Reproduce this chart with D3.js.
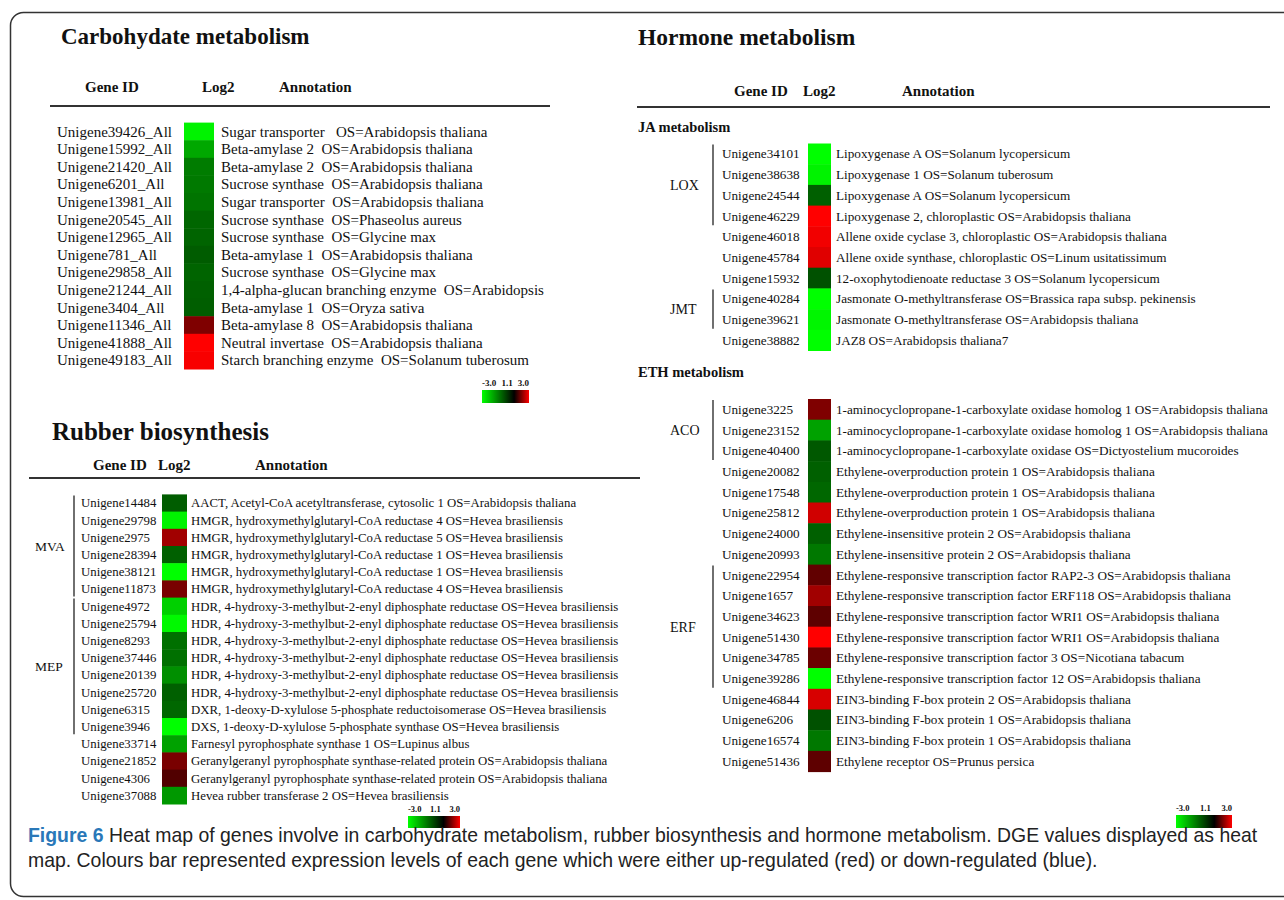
<!DOCTYPE html>
<html>
<head>
<meta charset="utf-8">
<script src="https://cdn.jsdelivr.net/npm/d3@7"></script>
<style>
  body { margin: 0; background: #fff; }
  svg { display: block; }
  text { font-family: "Liberation Serif", "Times New Roman", serif; fill: #111; }
  .cap { font-family: "Liberation Sans Narrow", "Liberation Sans", "Open Sans", sans-serif; fill: #222; }
</style>
</head>
<body>
<svg id="chart" width="1284" height="900"></svg>
<script>
// ---------- Carbohydrate metabolism ----------
const carbGenes = [
  "Unigene39426_All", "Unigene15992_All", "Unigene21420_All", "Unigene6201_All",
  "Unigene13981_All", "Unigene20545_All", "Unigene12965_All", "Unigene781_All",
  "Unigene29858_All", "Unigene21244_All", "Unigene3404_All", "Unigene11346_All",
  "Unigene41888_All", "Unigene49183_All"
];
const carbLog2 = [-2.8, -1.6, -0.9, -0.85, -0.77, -0.54, -0.5, -0.38, -0.5, -0.44, -0.41, 2.05, 3.0, 2.95];
const carbNotes = [
  "Sugar transporter   OS=Arabidopsis thaliana",
  "Beta-amylase 2  OS=Arabidopsis thaliana",
  "Beta-amylase 2  OS=Arabidopsis thaliana",
  "Sucrose synthase  OS=Arabidopsis thaliana",
  "Sugar transporter  OS=Arabidopsis thaliana",
  "Sucrose synthase  OS=Phaseolus aureus",
  "Sucrose synthase  OS=Glycine max",
  "Beta-amylase 1  OS=Arabidopsis thaliana",
  "Sucrose synthase  OS=Glycine max",
  "1,4-alpha-glucan branching enzyme  OS=Arabidopsis",
  "Beta-amylase 1  OS=Oryza sativa",
  "Beta-amylase 8  OS=Arabidopsis thaliana",
  "Neutral invertase  OS=Arabidopsis thaliana",
  "Starch branching enzyme  OS=Solanum tuberosum"
];

// ---------- Rubber biosynthesis ----------
const rubberGenes = [
  "Unigene14484", "Unigene29798", "Unigene2975", "Unigene28394", "Unigene38121", "Unigene11873",
  "Unigene4972", "Unigene25794", "Unigene8293", "Unigene37446", "Unigene20139", "Unigene25720",
  "Unigene6315", "Unigene3946", "Unigene33714", "Unigene21852", "Unigene4306", "Unigene37088"
];
const rubberLog2 = [-0.4, -2.8, 2.3, -0.45, -3.0, 2.0, -2.25, -2.9, -0.7, -0.7, -1.2, -0.45, -0.55, -3.0, -1.5, 2.0, 1.7, -1.35];
const rubberNotes = [
  "AACT, Acetyl-CoA acetyltransferase, cytosolic 1 OS=Arabidopsis thaliana",
  "HMGR, hydroxymethylglutaryl-CoA reductase 4 OS=Hevea brasiliensis",
  "HMGR, hydroxymethylglutaryl-CoA reductase 5 OS=Hevea brasiliensis",
  "HMGR, hydroxymethylglutaryl-CoA reductase 1 OS=Hevea brasiliensis",
  "HMGR, hydroxymethylglutaryl-CoA reductase 1 OS=Hevea brasiliensis",
  "HMGR, hydroxymethylglutaryl-CoA reductase 4 OS=Hevea brasiliensis",
  "HDR, 4-hydroxy-3-methylbut-2-enyl diphosphate reductase OS=Hevea brasiliensis",
  "HDR, 4-hydroxy-3-methylbut-2-enyl diphosphate reductase OS=Hevea brasiliensis",
  "HDR, 4-hydroxy-3-methylbut-2-enyl diphosphate reductase OS=Hevea brasiliensis",
  "HDR, 4-hydroxy-3-methylbut-2-enyl diphosphate reductase OS=Hevea brasiliensis",
  "HDR, 4-hydroxy-3-methylbut-2-enyl diphosphate reductase OS=Hevea brasiliensis",
  "HDR, 4-hydroxy-3-methylbut-2-enyl diphosphate reductase OS=Hevea brasiliensis",
  "DXR, 1-deoxy-D-xylulose 5-phosphate reductoisomerase OS=Hevea brasiliensis",
  "DXS, 1-deoxy-D-xylulose 5-phosphate synthase OS=Hevea brasiliensis",
  "Farnesyl pyrophosphate synthase 1 OS=Lupinus albus",
  "Geranylgeranyl pyrophosphate synthase-related protein OS=Arabidopsis thaliana",
  "Geranylgeranyl pyrophosphate synthase-related protein OS=Arabidopsis thaliana",
  "Hevea rubber transferase 2 OS=Hevea brasiliensis"
];
const rubberGroups = [
  { name: "MVA", from: "Unigene14484", to: "Unigene11873" },
  { name: "MEP", from: "Unigene4972", to: "Unigene3946" }
];

// ---------- Hormone metabolism: JA ----------
const jaGenes = [
  "Unigene34101", "Unigene38638", "Unigene24544", "Unigene46229", "Unigene46018",
  "Unigene45784", "Unigene15932", "Unigene40284", "Unigene39621", "Unigene38882"
];
const jaLog2 = [-3.0, -2.8, -0.45, 3.0, 2.9, 2.77, -0.2, -3.0, -2.85, -3.0];
const jaNotes = [
  "Lipoxygenase A OS=Solanum lycopersicum",
  "Lipoxygenase 1 OS=Solanum tuberosum",
  "Lipoxygenase A OS=Solanum lycopersicum",
  "Lipoxygenase 2, chloroplastic OS=Arabidopsis thaliana",
  "Allene oxide cyclase 3, chloroplastic OS=Arabidopsis thaliana",
  "Allene oxide synthase, chloroplastic OS=Linum usitatissimum",
  "12-oxophytodienoate reductase 3 OS=Solanum lycopersicum",
  "Jasmonate O-methyltransferase OS=Brassica rapa subsp. pekinensis",
  "Jasmonate O-methyltransferase OS=Arabidopsis thaliana",
  "JAZ8 OS=Arabidopsis thaliana7"
];
const jaGroups = [
  { name: "LOX", from: "Unigene34101", to: "Unigene46229" },
  { name: "JMT", from: "Unigene40284", to: "Unigene39621" }
];

// ---------- Hormone metabolism: ETH ----------
const ethGenes = [
  "Unigene3225", "Unigene23152", "Unigene40400", "Unigene20082", "Unigene17548", "Unigene25812",
  "Unigene24000", "Unigene20993", "Unigene22954", "Unigene1657", "Unigene34623", "Unigene51430",
  "Unigene34785", "Unigene39286", "Unigene46844", "Unigene6206", "Unigene16574", "Unigene51436"
];
const ethLog2 = [2.05, -1.5, -0.32, -0.45, -0.55, 2.65, -0.45, -0.83, 1.82, 2.3, 1.8, 3.0, 1.9, -3.0, 2.7, -0.2, -0.83, 1.8];
const ethNotes = [
  "1-aminocyclopropane-1-carboxylate oxidase homolog 1 OS=Arabidopsis thaliana",
  "1-aminocyclopropane-1-carboxylate oxidase homolog 1 OS=Arabidopsis thaliana",
  "1-aminocyclopropane-1-carboxylate oxidase OS=Dictyostelium mucoroides",
  "Ethylene-overproduction protein 1 OS=Arabidopsis thaliana",
  "Ethylene-overproduction protein 1 OS=Arabidopsis thaliana",
  "Ethylene-overproduction protein 1 OS=Arabidopsis thaliana",
  "Ethylene-insensitive protein 2 OS=Arabidopsis thaliana",
  "Ethylene-insensitive protein 2 OS=Arabidopsis thaliana",
  "Ethylene-responsive transcription factor RAP2-3 OS=Arabidopsis thaliana",
  "Ethylene-responsive transcription factor ERF118 OS=Arabidopsis thaliana",
  "Ethylene-responsive transcription factor WRI1 OS=Arabidopsis thaliana",
  "Ethylene-responsive transcription factor WRI1 OS=Arabidopsis thaliana",
  "Ethylene-responsive transcription factor 3 OS=Nicotiana tabacum",
  "Ethylene-responsive transcription factor 12 OS=Arabidopsis thaliana",
  "EIN3-binding F-box protein 2 OS=Arabidopsis thaliana",
  "EIN3-binding F-box protein 1 OS=Arabidopsis thaliana",
  "EIN3-binding F-box protein 1 OS=Arabidopsis thaliana",
  "Ethylene receptor OS=Prunus persica"
];
const ethGroups = [
  { name: "ACO", from: "Unigene3225", to: "Unigene40400" },
  { name: "ERF", from: "Unigene22954", to: "Unigene39286" }
];

// colour key ticks and header labels
const legendTicks = [-3.0, 1.1, 3.0];
const headerLabels = ["Gene ID", "Log2", "Annotation"];
const captionBold = "Figure 6";
const captionLines = [
  " Heat map of genes involve in carbohydrate metabolism, rubber biosynthesis and hormone metabolism. DGE values displayed as heat",
  "map. Colours bar represented expression levels of each gene which were either up-regulated (red) or down-regulated (blue)."
];

// ---------- drawing ----------
const svg = d3.select("#chart");
const color = d3.scaleLinear().domain(legendTicks).range(["#00ff00", "#000000", "#ff0000"]).clamp(true);

// outer frame (open to the right)
svg.append("rect")
  .attr("x", 10.5).attr("y", 12.5).attr("width", 1320).attr("height", 884)
  .attr("rx", 13).attr("fill", "none").attr("stroke", "#333").attr("stroke-width", 1.5);

// gradient for the colour keys
const defs = svg.append("defs");
const grad = defs.append("linearGradient").attr("id", "keyGrad");
const keyPos = d3.scaleLinear().domain(d3.extent(legendTicks)).range([0, 100]);
legendTicks.forEach(t => grad.append("stop").attr("offset", keyPos(t) + "%").attr("stop-color", color(t)));

function title(g, txt, x, y, size) {
  g.append("text").attr("x", x).attr("y", y).attr("font-size", size).attr("font-weight", "bold").text(txt);
}

function header(g, xs, y, lineX0, lineX1, lineY) {
  g.selectAll(null).data(headerLabels).join("text")
    .attr("x", (d, i) => xs[i]).attr("y", y)
    .attr("font-size", 15).attr("font-weight", "bold").text(d => d);
  g.append("line").attr("x1", lineX0).attr("x2", lineX1).attr("y1", lineY).attr("y2", lineY)
    .attr("stroke", "#333").attr("stroke-width", 2);
}

function block(g, o) {
  const y = d3.scaleBand().domain(o.genes).range([o.top, o.bottom]);
  const rows = o.genes.map((gname, i) => ({ gene: gname, v: o.values[i], note: o.notes[i] }));
  g.selectAll(null).data(rows).join("rect")
    .attr("x", o.cellX).attr("width", o.cellW)
    .attr("y", d => y(d.gene)).attr("height", y.bandwidth() + 0.5)
    .attr("fill", d => color(d.v));
  g.selectAll(null).data(rows).join("text")
    .attr("x", o.labelX).attr("y", d => y(d.gene) + y.bandwidth() / 2).attr("dy", "0.35em")
    .attr("font-size", o.fontSize).text(d => d.gene);
  g.selectAll(null).data(rows).join("text")
    .attr("x", o.noteX).attr("y", d => y(d.gene) + y.bandwidth() / 2).attr("dy", "0.35em")
    .attr("font-size", o.fontSize).style("white-space", "pre").text(d => d.note);
  (o.groups || []).forEach(grp => {
    const y0 = y(grp.from) + 1, y1 = y(grp.to) + y.bandwidth() - 1;
    g.append("line").attr("x1", o.bracketX).attr("x2", o.bracketX).attr("y1", y0).attr("y2", y1)
      .attr("stroke", "#222").attr("stroke-width", 1.3);
    g.append("text").attr("x", o.groupX).attr("y", (y0 + y1) / 2).attr("dy", "0.35em")
      .attr("font-size", o.groupFont).text(grp.name);
  });
}

// colour key: gradient bar with end labels at the bar ends and the midpoint label between them
function colourKey(g, x, w, labelY, barY, barH, fs) {
  g.append("rect").attr("x", x).attr("y", barY).attr("width", w).attr("height", barH).attr("fill", "url(#keyGrad)");
  const last = legendTicks.length - 1;
  const labels = g.selectAll(null).data(legendTicks).join("text")
    .attr("y", labelY)
    .attr("font-size", fs).attr("font-weight", "bold").text(d => d.toFixed(1));
  const widths = labels.nodes().map(n => n.getComputedTextLength());
  const innerL = x + widths[0], innerR = x + w - widths[last];
  labels
    .attr("x", (d, i) => i === 0 ? x : i === last ? x + w : (innerL + innerR) / 2)
    .attr("text-anchor", (d, i) => i === 0 ? "start" : i === last ? "end" : "middle");
}

// Carbohydrate panel
const gC = svg.append("g");
title(gC, "Carbohydate metabolism", 61, 44, 23);
header(gC, [85, 202, 279], 92, 50, 550, 106);
block(gC, { genes: carbGenes, values: carbLog2, notes: carbNotes, top: 122.6, bottom: 369,
  labelX: 57, cellX: 184, cellW: 30, noteX: 221, fontSize: 15 });
colourKey(gC, 482, 47, 386, 390, 13, 9);

// Rubber panel
const gR = svg.append("g");
title(gR, "Rubber biosynthesis", 52, 440, 25);
header(gR, [93, 158, 255], 470, 29, 640, 478);
block(gR, { genes: rubberGenes, values: rubberLog2, notes: rubberNotes, top: 494.4, bottom: 804,
  labelX: 81, cellX: 162, cellW: 25, noteX: 191, fontSize: 12.8,
  groups: rubberGroups, bracketX: 74, groupX: 35, groupFont: 13.5 });
colourKey(gR, 408, 52, 812, 816, 12, 8.5);

// Hormone panel
const gH = svg.append("g");
title(gH, "Hormone metabolism", 638, 45, 23.5);
header(gH, [734, 803, 902], 96, 637, 1270, 107);
gH.append("text").attr("x", 638).attr("y", 132).attr("font-size", 14.5).attr("font-weight", "bold").text("JA metabolism");
block(gH, { genes: jaGenes, values: jaLog2, notes: jaNotes, top: 143.5, bottom: 350.5,
  labelX: 722, cellX: 808, cellW: 23, noteX: 836, fontSize: 13.2,
  groups: jaGroups, bracketX: 713, groupX: 670, groupFont: 14 });
gH.append("text").attr("x", 638).attr("y", 377).attr("font-size", 14.5).attr("font-weight", "bold").text("ETH metabolism");
block(gH, { genes: ethGenes, values: ethLog2, notes: ethNotes, top: 399, bottom: 771.6,
  labelX: 722, cellX: 808, cellW: 23, noteX: 836, fontSize: 13.2,
  groups: ethGroups, bracketX: 713, groupX: 670, groupFont: 14 });
colourKey(gH, 1176, 56, 811, 815, 13, 8.5);

// Caption, squeezed horizontally to the frame width
const cap = svg.append("g");
const c1 = cap.append("text").attr("class", "cap").attr("x", 0).attr("y", 842).attr("font-size", 20);
c1.append("tspan").attr("font-weight", "bold").style("fill", "#2a78b8").text(captionBold);
c1.append("tspan").style("white-space", "pre").text(captionLines[0]);
cap.append("text").attr("class", "cap").attr("x", 0).attr("y", 867).attr("font-size", 20).text(captionLines[1]);
const natural = c1.node().getComputedTextLength();
cap.attr("transform", `translate(28,0) scale(${1230 / natural},1)`);
</script>
</body>
</html>
